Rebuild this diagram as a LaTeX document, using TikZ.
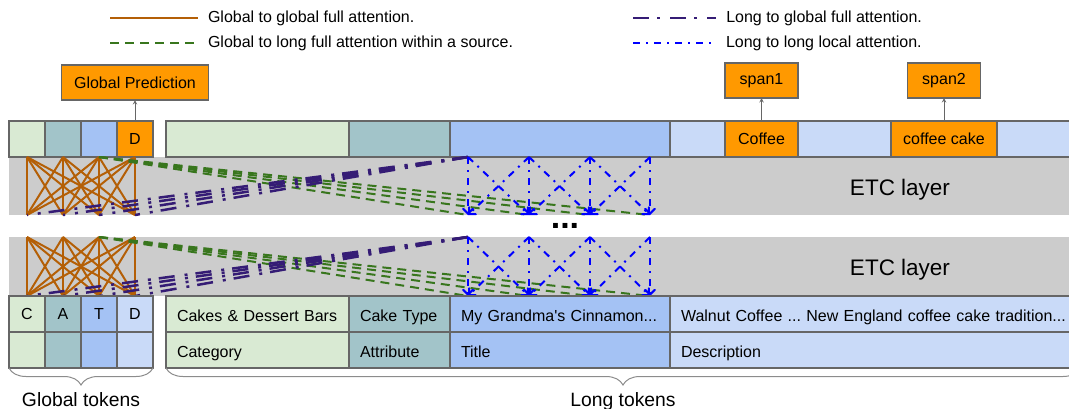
\documentclass[tikz,border=0pt]{standalone}
\usepackage{fontspec}
\setmainfont{Liberation Sans}
\usepackage{tikz}
\usetikzlibrary{arrows,positioning,decorations.pathreplacing}
\usepackage{xcolor}
\definecolor{etcgreen}{HTML}{D9EAD3}
\definecolor{etcteal}{HTML}{A2C4C9}
\definecolor{etcblue}{HTML}{A4C2F4}
\definecolor{etclightblue}{HTML}{C9DAF8}
\definecolor{etcorange}{HTML}{FF9900}
\definecolor{etcgray}{HTML}{CCCCCC}
\definecolor{etcbrown}{HTML}{B45F06}
\definecolor{etcdarkgreen}{HTML}{38761D}
\definecolor{etcpurple}{HTML}{351C75}
\definecolor{etclineblue}{HTML}{0000FF}
\tikzstyle{cell} = [rectangle, draw=black!60, line width=1.2pt, minimum width=36pt, minimum height=36pt, inner sep=0pt, outer sep=0pt, text centered]
\tikzstyle{longcell} = [cell, text width=#1, inner xsep=11pt, align=left, text height=14pt, text depth=0pt]
\tikzstyle{layerbox} = [rectangle, fill=etcgray, anchor=north west, minimum width=1080pt, inner sep=0pt, outer sep=0pt]
\tikzstyle{predbox} = [cell, fill=etcorange, minimum width=73pt, minimum height=35pt]
\tikzstyle{predarrow} = [draw=black!60, line width=1pt, ->, >=stealth]
\tikzstyle{ggline} = [draw=etcbrown, line width=2pt]
\tikzstyle{glline} = [draw=etcdarkgreen, line width=2pt, dash pattern=on 9pt off 6pt]
\tikzstyle{lgline} = [draw=etcpurple, line width=2.5pt, dash pattern=on 16pt off 8pt on 3pt off 10pt]
\tikzstyle{llline} = [draw=etclineblue, line width=2pt, dash pattern=on 7pt off 6pt on 2pt off 6pt, ->, >=angle 90]
\tikzstyle{legtext} = [anchor=west, inner sep=0pt, xshift=9pt]
\tikzstyle{tokbrace} = [draw=black!45, line width=1pt, decorate, decoration={brace, mirror, amplitude=17pt}]
\tikzstyle{bracetext} = [anchor=base, inner sep=0pt, font=\fontsize{19.3}{22}\selectfont]
\tikzstyle{etctext} = [inner sep=0pt, font=\fontsize{22.5}{26}\selectfont]
\frenchspacing

\begin{document}
\begin{tikzpicture}[x=1pt, y=-1pt, font=\fontsize{16}{19}\selectfont]
\useasboundingbox (0,0) rectangle (1069,408);
\clip (0,0) rectangle (1069,408);

% Legend
\draw[ggline] (110,18) -- (198,18) node[legtext] (leg1) {Global to global full attention.};
\draw[glline] (110,43) -- (198,43) node[legtext] (leg2) {Global to long full attention within a source.};
\draw[lgline] (633,18) -- (716,18) node[legtext] (leg3) {Long to global full attention.};
\draw[llline, -] (633,43) -- (716,43) node[legtext] (leg4) {Long to long local attention.};

% ETC layers
\node (layer1) [layerbox, minimum height=58pt] at (9,157) {};
\node (layer2) [layerbox, minimum height=59pt] at (9,237) {};
\node (etc1) [etctext] at (900,189.5) {ETC layer};
\node (etc2) [etctext] at (900,269.5) {ETC layer};
\node (dots) [anchor=base, inner sep=0pt, font=\fontsize{34}{34}\selectfont\bfseries] at (565,228) {...};

% Top row: global tokens
\node (topC) [cell, fill=etcgreen] at (27,139) {};
\node (topA) [cell, fill=etcteal, right=0pt of topC] {};
\node (topT) [cell, fill=etcblue, right=0pt of topA] {};
\node (topD) [cell, fill=etcorange, right=0pt of topT] {D};

% Top row: long tokens
\node (topCat) [cell, fill=etcgreen, minimum width=183pt, anchor=west] at (166,139) {};
\node (topAttr) [cell, fill=etcteal, minimum width=101pt, right=0pt of topCat] {};
\node (topTitle) [cell, fill=etcblue, minimum width=220pt, right=0pt of topAttr] {};
\node (topDesc) [cell, fill=etclightblue, minimum width=420pt, right=0pt of topTitle] {};
\node (coffee) [cell, fill=etcorange, minimum width=73pt] at (761.5,139) {Coffee};
\node (coffeecake) [cell, fill=etcorange, minimum width=106pt] at (944,139) {coffee cake};

% Predictions
\node (gpred) [predbox, minimum width=147pt, above=21pt of topD] {Global Prediction};
\node (span1) [predbox, above=23pt of coffee] {span1};
\node (span2) [predbox, above=23pt of coffeecake] {span2};
\draw[predarrow] (topD) -- (gpred);
\draw[predarrow] (coffee) -- (span1);
\draw[predarrow] (coffeecake) -- (span2);

% Attention inside the layers
\foreach \l/\yt/\yb in {1/157/215, 2/237/296} {
  \foreach \x [count=\i] in {27,63,99,135} {
    \coordinate (g\l t\i) at (\x,\yt);
    \coordinate (g\l b\i) at (\x,\yb);
  }
  \foreach \x [count=\i] in {468,529,590,650} {
    \coordinate (l\l t\i) at (\x,\yt);
    \coordinate (l\l b\i) at (\x,\yb);
  }
}
\foreach \l in {1,2} {
  \foreach \i in {1,...,4} {
    \foreach \j in {1,...,4} {
      \draw[ggline] (g\l t\i) -- (g\l b\j);
    }
  }
  \foreach \j in {1,...,4} {
    \draw[glline] (g\l t3) -- (l\l b\j);
  }
  \foreach \j in {1,...,4} {
    \draw[lgline] (l\l t1) -- (g\l b\j);
  }
  \foreach \i in {1,...,4} {
    \draw[llline] (l\l t\i) -- (l\l b\i);
  }
  \foreach \i/\k in {1/2,2/3,3/4} {
    \draw[llline] (l\l t\i) -- (l\l b\k);
    \draw[llline] (l\l t\k) -- (l\l b\i);
  }
}

% Bottom rows: global tokens
\node (botC) [cell, fill=etcgreen] at (27,314) {C};
\node (botA) [cell, fill=etcteal, right=0pt of botC] {A};
\node (botT) [cell, fill=etcblue, right=0pt of botA] {T};
\node (botD) [cell, fill=etclightblue, right=0pt of botT] {D};
\node (botC2) [cell, fill=etcgreen, below=0pt of botC] {};
\node (botA2) [cell, fill=etcteal, below=0pt of botA] {};
\node (botT2) [cell, fill=etcblue, below=0pt of botT] {};
\node (botD2) [cell, fill=etclightblue, below=0pt of botD] {};

% Bottom rows: long tokens
\node (catVal) [longcell=161pt, fill=etcgreen, anchor=west] at (166,314) {Cakes \& Dessert Bars};
\node (attrVal) [longcell=79pt, fill=etcteal, right=0pt of catVal] {Cake Type};
\node (titleVal) [longcell=198pt, fill=etcblue, right=0pt of attrVal] {My Grandma\textquotesingle s Cinnamon...};
\node (descVal) [longcell=398pt, fill=etclightblue, right=0pt of titleVal] {Walnut Coffee ... New England coffee cake tradition...};
\node (catKey) [longcell=161pt, fill=etcgreen, below=0pt of catVal] {Category};
\node (attrKey) [longcell=79pt, fill=etcteal, below=0pt of attrVal] {Attribute};
\node (titleKey) [longcell=198pt, fill=etcblue, below=0pt of titleVal] {Title};
\node (descKey) [longcell=398pt, fill=etclightblue, below=0pt of descVal] {Description};

% Braces
\coordinate (longEnd) at (1080,368);
\draw[tokbrace] (botC2.south west) -- (botD2.south east);
\draw[tokbrace] (catKey.south west) -- (longEnd);
\node (globLbl) [bracetext] at (81,406) {Global tokens};
\node (longLbl) [bracetext] at (623,406) {Long tokens};
\end{tikzpicture}
\end{document}
